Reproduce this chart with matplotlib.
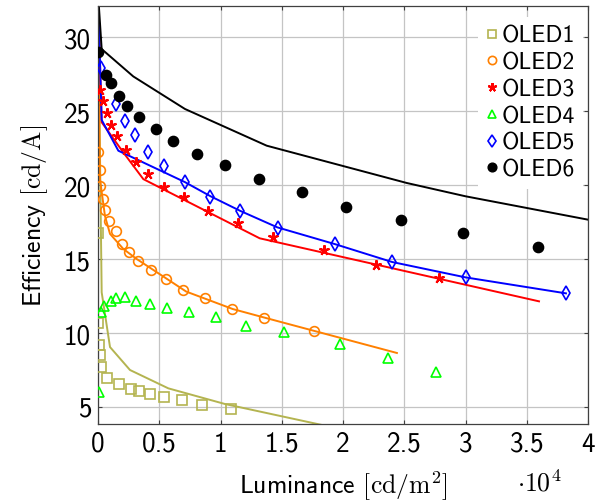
import matplotlib
matplotlib.use("Agg")
import matplotlib.pyplot as plt
from matplotlib.ticker import FixedLocator, FuncFormatter

plt.rcParams["font.family"] = ["cmss10", "DejaVu Sans"]
plt.rcParams["mathtext.fontset"] = "cm"
plt.rcParams["axes.unicode_minus"] = False
plt.rcParams["axes.formatter.use_mathtext"] = True

# Measured efficiency vs. luminance (luminance in cd/m^2, efficiency in cd/A)
oled1_lum = [20, 25, 80, 160, 240, 760, 1690, 2670, 3370, 4270, 5390, 6830, 8490, 10830]
oled1_eff = [16.75, 10.7, 9.2, 8.5, 7.7, 6.96, 6.55, 6.2, 6.1, 5.88, 5.65, 5.47, 5.16, 4.86]

oled2_lum = [25, 130, 170, 430, 570, 900, 1470, 1930, 2530, 3290, 4330, 5530, 6960,
             8730, 10960, 13530, 17660]
oled2_eff = [22.21, 21.03, 19.91, 19.09, 18.31, 17.59, 16.87, 16.01, 15.49, 14.88, 14.28,
             13.65, 12.91, 12.34, 11.62, 11.03, 10.15]

oled3_lum = [160, 430, 710, 1060, 1580, 2290, 3080, 4110, 5410, 7040, 9000, 11400,
             14260, 18470, 22690, 27800]
oled3_eff = [26.44, 25.70, 24.86, 24.07, 23.29, 22.36, 21.53, 20.76, 19.86, 19.17, 18.22,
             17.41, 16.47, 15.63, 14.61, 13.70]

oled4_lum = [80, 240, 490, 1040, 1470, 2200, 3100, 4270, 5660, 7400, 9630, 12080,
             15210, 19760, 23650, 27620]
oled4_eff = [6.0, 11.44, 11.8, 12.18, 12.34, 12.41, 12.18, 11.96, 11.67, 11.40, 11.06,
             10.49, 10.05, 9.26, 8.29, 7.38]

oled5_lum = [245, 1440, 2200, 3020, 4110, 5390, 7090, 9170, 11620, 14670, 19370,
             23980, 30000, 38200]
oled5_eff = [27.9, 25.45, 24.30, 23.38, 22.25, 21.30, 20.2, 19.19, 18.22, 17.11, 16.01,
             14.82, 13.76, 12.68]

oled6_lum = [20, 650, 1060, 1690, 2370, 3350, 4710, 6100, 8060, 10370, 13140, 16680,
             20270, 24730, 29800, 35900]
oled6_eff = [29.0, 27.43, 26.9, 26.0, 25.34, 24.57, 23.78, 22.97, 22.11, 21.35, 20.38,
             19.51, 18.53, 17.66, 16.74, 15.81]

# Simulated curves
sim1_lum = [0, 300, 980, 2610, 5740, 10370, 18300, 20000]
sim1_eff = [33, 12.75, 9.05, 7.5, 6.26, 5.2, 3.78, 3.47]

sim2_lum = [0, 160, 570, 980, 2070, 3160, 7200, 11000, 13500, 24400]
sim2_eff = [33, 20.4, 17.9, 16.7, 15.68, 15.0, 12.8, 11.62, 11.06, 8.65]

sim3_lum = [0, 300, 2070, 3700, 13200, 36000]
sim3_eff = [33, 24.24, 22.2, 20.4, 16.4, 12.14]

sim5_lum = [0, 300, 1660, 7090, 9170, 11620, 14640, 19370, 24000, 30000, 38200]
sim5_eff = [33, 24.4, 22.32, 20.2, 19.25, 18.25, 17.14, 16.0, 14.8, 13.76, 12.68]

sim6_lum = [0, 300, 2880, 7100, 13770, 25200, 30000, 40000]
sim6_eff = [33, 29.19, 27.34, 25.14, 22.66, 20.14, 19.24, 17.66]

series_labels = ["OLED1", "OLED2", "OLED3", "OLED4", "OLED5", "OLED6"]
x_ticks = [0, 5000, 10000, 15000, 20000, 25000, 30000, 35000, 40000]
y_ticks = [5, 10, 15, 20, 25, 30]

OLIVE = "#b4b450"
ORANGE = "#ff8000"
RED = "#ff0000"
GREEN = "#00ff00"
BLUE = "#0000ff"
BLACK = "#000000"

fig = plt.figure(figsize=(6.07, 5.02), dpi=100)
ax = fig.add_axes([98 / 607, 1 - 425 / 502, 490 / 607, 418 / 502])

lw = 1.4
ax.plot(sim1_lum, sim1_eff, color=OLIVE, lw=lw, zorder=2)
ax.plot(sim2_lum, sim2_eff, color=ORANGE, lw=lw, zorder=2)
ax.plot(sim3_lum, sim3_eff, color=RED, lw=lw, zorder=2)
ax.plot(sim5_lum, sim5_eff, color=BLUE, lw=lw, zorder=2)
ax.plot(sim6_lum, sim6_eff, color=BLACK, lw=lw, zorder=2)

# five-spoke asterisk, like a pgfplots "star" mark
asterisk = (5, 2, 0)

ax.plot(oled1_lum, oled1_eff, ls="none", marker="s", ms=6.5, mfc="none", mec=OLIVE,
        mew=1.2, label=series_labels[0], zorder=3)
ax.plot(oled2_lum, oled2_eff, ls="none", marker="o", ms=7, mfc="none", mec=ORANGE,
        mew=1.2, label=series_labels[1], zorder=3)
ax.plot(oled3_lum, oled3_eff, ls="none", marker=asterisk, ms=7.5, mfc=RED, mec=RED,
        mew=1.5, label=series_labels[2], zorder=3)
ax.plot(oled4_lum, oled4_eff, ls="none", marker="^", ms=6.5, mfc="none", mec=GREEN,
        mew=1.2, label=series_labels[3], zorder=3)
ax.plot(oled5_lum, oled5_eff, ls="none", marker="d", ms=7.5, mfc="none", mec=BLUE,
        mew=1.2, label=series_labels[4], zorder=3)
ax.plot(oled6_lum, oled6_eff, ls="none", marker="o", ms=7.4, mfc=BLACK, mec=BLACK,
        label=series_labels[5], zorder=3)

ax.set_xlim(0, 40000)
ax.set_ylim(3.85, 32.1)
ax.xaxis.set_major_locator(FixedLocator(x_ticks))
ax.yaxis.set_major_locator(FixedLocator(y_ticks))
ax.xaxis.set_major_formatter(FuncFormatter(lambda v, _: f"{v / 1e4:g}"))
ax.yaxis.set_major_formatter(FuncFormatter(lambda v, _: f"{v:g}"))

ax.grid(True, color="#c4c4c4", lw=0.9, zorder=0)
ax.set_axisbelow(True)
for s in ax.spines.values():
    s.set_color("#404040")
    s.set_linewidth(0.9)
ax.tick_params(direction="in", length=3, width=0.8, color="#404040",
               top=True, right=True, labelsize=19.5, pad=5)

ax.set_xlabel(r"Luminance $[\mathrm{cd/m^2}]$", fontsize=18.5, labelpad=9)
ax.set_ylabel(r"Efficiency $[\mathrm{cd/A}]$", fontsize=18.5, labelpad=10)
fig.text(539 / 607, 1 - 483 / 502, r"$\cdot\mathsf{10^4}$", fontsize=18.5,
         ha="center", va="center")

leg = ax.legend(loc="upper right", bbox_to_anchor=(1.0, 1 - 6 / 418), fontsize=17,
                frameon=True, fancybox=False, edgecolor="none", facecolor="white",
                framealpha=1, handlelength=0.45, handletextpad=0.2, labelspacing=0.2,
                borderaxespad=0.2, borderpad=0.35, markerscale=0.85)

fig.savefig("out.png", dpi=100)
